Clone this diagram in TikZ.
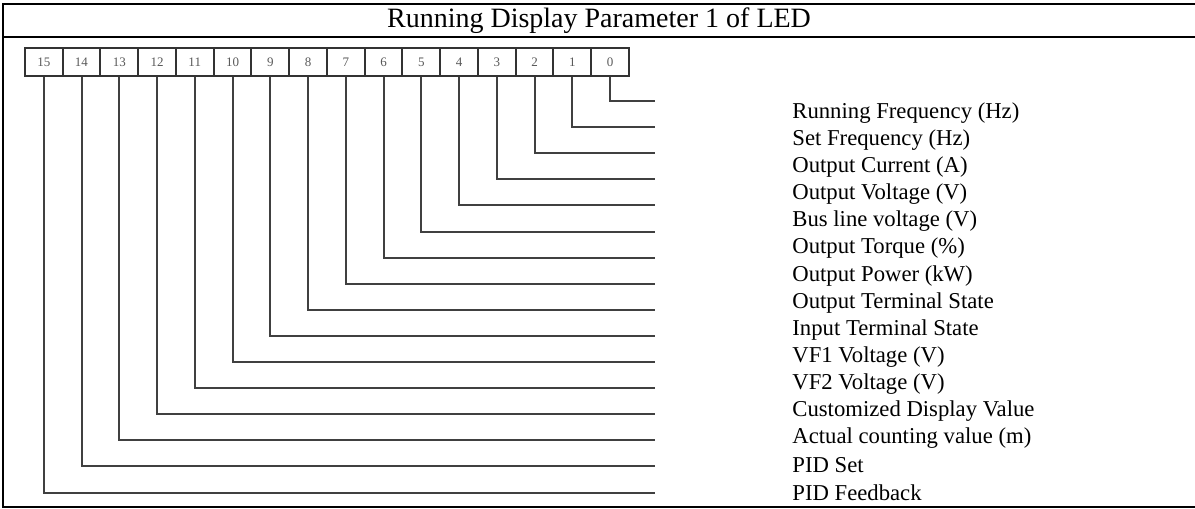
\documentclass[tikz,border=0pt]{standalone}
\usepackage{fontspec}
\setmainfont{Liberation Serif}
\usepackage{tikz}
\usetikzlibrary{positioning}

\begin{document}
\begin{tikzpicture}[
        x=0.5pt, y=-0.5pt,
        frame/.style={line width=1pt},
        bitbox/.style={draw=black!80, line width=0.9pt, minimum width=18.875pt, minimum height=14pt, inner sep=0pt, font=\fontsize{6.5}{6.5}\selectfont, text=black!65},
        wire/.style={draw=black!75, line width=1pt},
        lbl/.style={anchor=west, inner sep=0pt, font=\fontsize{11.35}{13}\selectfont}
    ]
        \useasboundingbox (0,0) rectangle (1195,509);
        % table frame
        \draw[frame] (1195,4) -- (3,4) -- (3,507) -- (1195,507);
        \draw[frame] (3,37) -- (1195,37);
        \node[font=\fontsize{14}{16}\selectfont] (title) at (599,21) {Running Display Parameter 1 of LED};
        % bit boxes and wires
        \foreach \i in {0,...,15} {
            \node[bitbox] (b\i) at ({610-37.75*\i},62) {\i};
            \coordinate (e\i) at (655,{101+26.1*\i});
            \draw[wire] (b\i.south) |- (e\i);
        }
        % labels
        \foreach \txt [count=\j from 0] in {Running Frequency (Hz), Set Frequency (Hz), Output Current (A), Output Voltage (V), Bus line voltage (V), Output Torque (\%), Output Power (kW), Output Terminal State, Input Terminal State, VF1 Voltage (V), VF2 Voltage (V), Customized Display Value, Actual counting value (m), PID Set, PID Feedback}
            \node[lbl] (t\j) at (792,{113+27.1*\j}) {\txt};
\end{tikzpicture}
\end{document}
